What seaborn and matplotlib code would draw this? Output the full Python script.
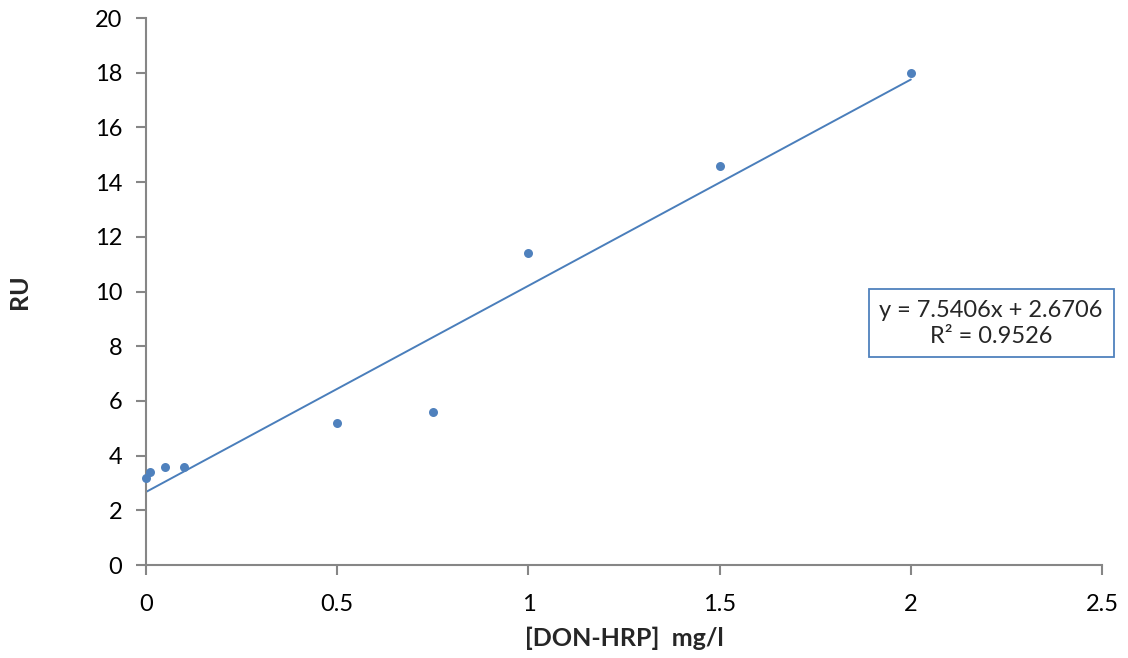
import matplotlib
matplotlib.use("Agg")
import matplotlib.pyplot as plt
import seaborn as sns
import numpy as np
import pandas as pd

conc = [0, 0.01, 0.05, 0.1, 0.5, 0.75, 1.0, 1.5, 2.0]
ru = [3.2, 3.4, 3.6, 3.6, 5.2, 5.6, 11.4, 14.6, 18.0]
x_ticks = [0, 0.5, 1, 1.5, 2, 2.5]
x_tick_labels = ["0", "0.5", "1", "1.5", "2", "2.5"]
y_ticks = [0, 2, 4, 6, 8, 10, 12, 14, 16, 18, 20]
eq_text = "y = 7.5406x + 2.6706\nR² = 0.9526"

df = pd.DataFrame({"conc": conc, "ru": ru})

sns.set_style("white")
plt.rcParams['font.family'] = ['Lato', 'DejaVu Sans']

fig = plt.figure(figsize=(11.28, 6.58), dpi=100)
ax = fig.add_axes([0.1294, 0.1413, 0.8476, 0.8313])

blue = "#4F81BD"
sns.regplot(data=df, x="conc", y="ru", ax=ax, ci=None, truncate=True,
            scatter_kws=dict(s=42, color=blue, alpha=1, clip_on=False, zorder=3, linewidths=0),
            line_kws=dict(color="#4A7EBB", lw=1.4))

ax.set_xlim(0, 2.5)
ax.set_ylim(0, 20)
ax.set_xticks(x_ticks)
ax.set_xticklabels(x_tick_labels)
ax.set_yticks(y_ticks)

gray = "#868686"
for s in ["top", "right"]:
    ax.spines[s].set_visible(False)
for s in ["left", "bottom"]:
    ax.spines[s].set_color(gray)
    ax.spines[s].set_linewidth(1.5)
ax.tick_params(axis="both", direction="out", length=7, width=1.5, color=gray,
               labelsize=17, labelcolor="black", left=True, bottom=True)
ax.tick_params(axis="x", pad=14)
ax.tick_params(axis="y", pad=10)

ax.set_xlabel("[DON-HRP]  mg/l", fontsize=18, fontweight="bold", labelpad=8)
ax.set_ylabel("RU", fontsize=18, fontweight="bold", labelpad=46)

ax.text(0.884, 0.442, eq_text, transform=ax.transAxes, ha="center", va="center",
        fontsize=17, linespacing=1.3,
        bbox=dict(boxstyle="square,pad=0.45", fc="white", ec=blue, lw=1.3))

fig.savefig("out.png", dpi=100)
